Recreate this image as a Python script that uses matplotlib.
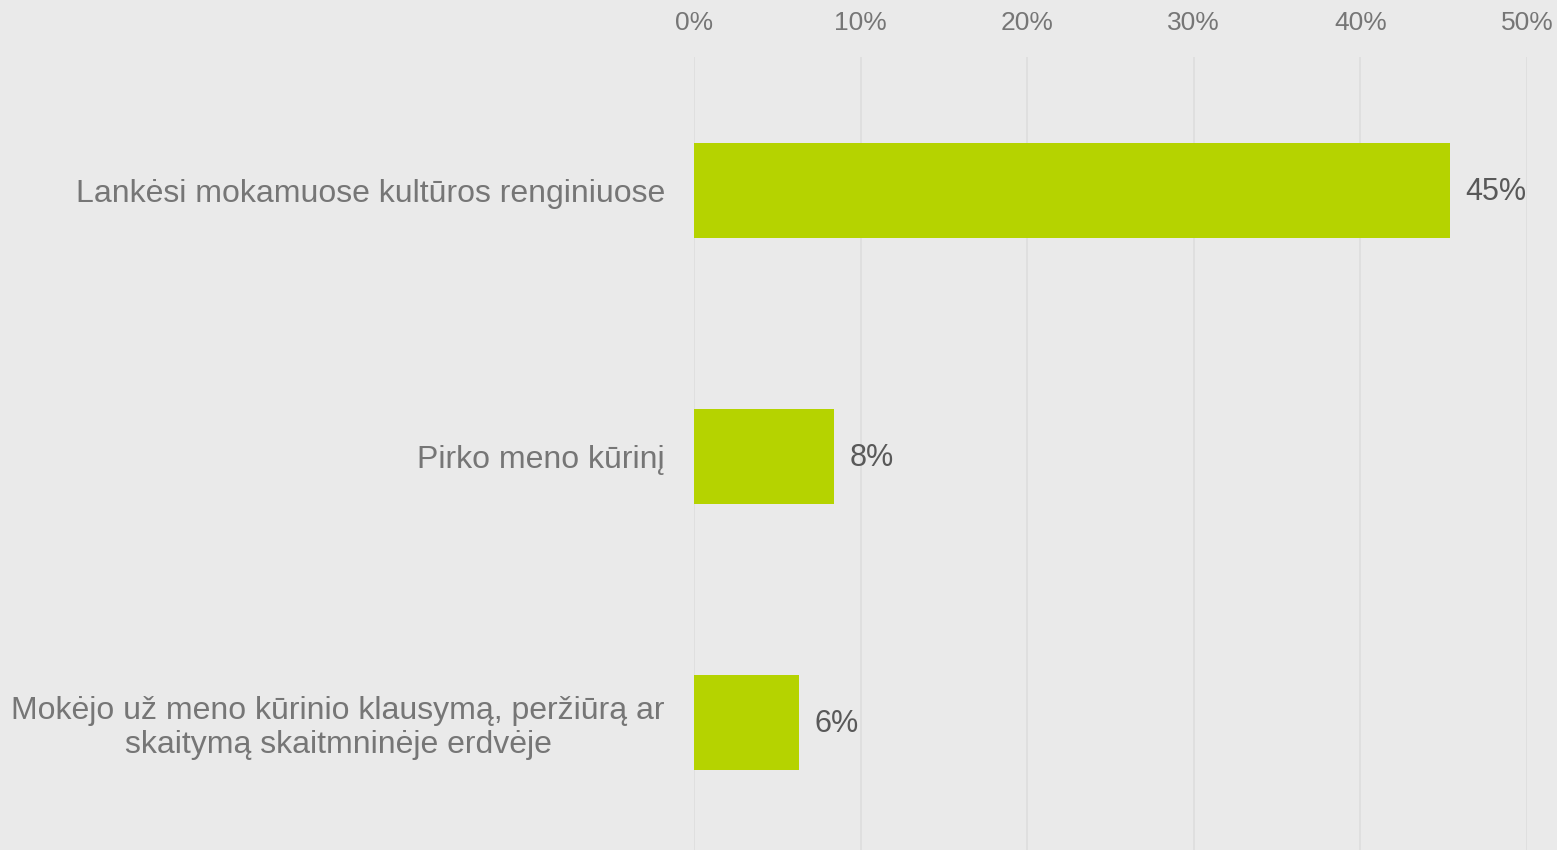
"""Horizontal bar chart of paid cultural participation shares."""

import matplotlib

matplotlib.use("Agg")

import matplotlib.pyplot as plt
from matplotlib.ticker import FuncFormatter, MultipleLocator

categories = [
    "Lankėsi mokamuose kultūros renginiuose",
    "Pirko meno kūrinį",
    "Mokėjo už meno kūrinio klausymą, peržiūrą ar\nskaitymą skaitmninėje erdvėje",
]
shares = [45.4, 8.4, 6.3]

BACKGROUND = "#EAEAEA"
BAR_COLOR = "#B5D300"
GRID_COLOR = "#DEDEDE"
AXIS_TEXT = "#767676"
VALUE_TEXT = "#595959"

plt.rcParams["font.family"] = ["Liberation Sans", "DejaVu Sans"]


def main():
    fig = plt.figure(figsize=(15.57, 8.5), dpi=100, facecolor=BACKGROUND)
    ax = fig.add_axes([0.4457, 0.0, 0.535, 0.933], facecolor=BACKGROUND)

    positions = list(range(len(categories)))
    bars = ax.barh(positions, shares, height=0.357, color=BAR_COLOR, zorder=3)

    for bar, value in zip(bars, shares):
        ax.annotate(
            f"{value:.0f}%",
            xy=(bar.get_width(), bar.get_y() + bar.get_height() / 2),
            xytext=(11, -1.5),
            textcoords="offset points",
            va="center",
            ha="left",
            fontsize=22,
            color=VALUE_TEXT,
        )

    ax.set_xlim(0, 50)
    ax.set_ylim(2.48, -0.5)
    ax.xaxis.set_major_locator(MultipleLocator(10))
    ax.xaxis.set_major_formatter(FuncFormatter(lambda v, _: f"{v:.0f}%"))
    ax.xaxis.tick_top()
    ax.tick_params(axis="x", length=0, pad=16, labelsize=19, labelcolor=AXIS_TEXT)

    ax.set_yticks(positions)
    ax.set_yticklabels(categories)
    ax.tick_params(axis="y", length=0, pad=21, labelsize=23, labelcolor=AXIS_TEXT)
    for label in ax.get_yticklabels():
        label.set_multialignment("center")
        label.set_linespacing(1.2)

    ax.grid(axis="x", color=GRID_COLOR, linewidth=1.3, zorder=0)
    for spine in ax.spines.values():
        spine.set_visible(False)

    fig.savefig("out.png", dpi=100, facecolor=BACKGROUND)
    plt.close(fig)


if __name__ == "__main__":
    main()
